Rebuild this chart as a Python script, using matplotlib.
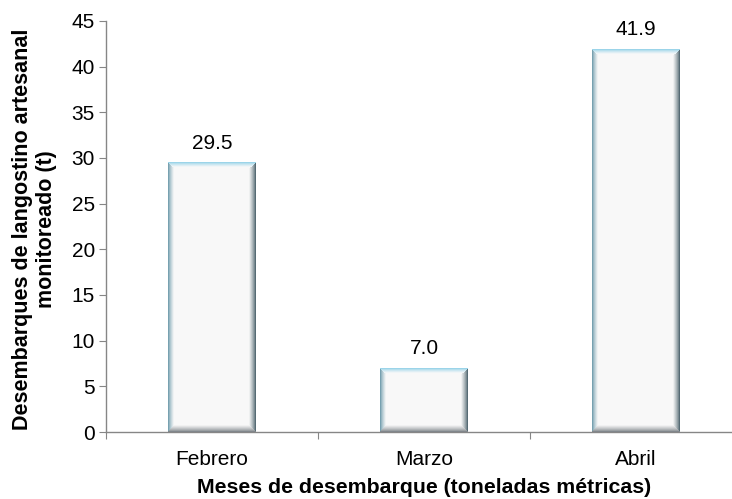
import numpy as np
import matplotlib
matplotlib.use("Agg")
import matplotlib.pyplot as plt

plt.rcParams['font.family'] = ['Liberation Sans', 'DejaVu Sans']

meses = ['Febrero', 'Marzo', 'Abril']
desembarques = [29.5, 7.0, 41.9]
y_ticks = [0, 5, 10, 15, 20, 25, 30, 35, 40, 45]

ancho = 0.415
gris_eje = '#868686'
fondo = 0.975


def imagen_bisel(w, h):
    """Arma la textura de una barra con bordes biselados (w x h pixeles)."""
    X, Y = np.meshgrid(np.arange(w) + 0.5, np.arange(h) + 0.5)
    d_izq, d_der, d_sup, d_inf = X, w - X, Y, h - Y
    img = np.ones((h, w, 3)) * fondo
    lados = [
        (d_izq, np.array([0.36, 0.56, 0.63]), 6.0),
        (d_der, np.array([0.22, 0.32, 0.36]), 7.0),
        (d_sup, np.array([0.52, 0.80, 0.90]), 5.0),
        (d_inf, np.array([0.42, 0.45, 0.47]), 7.0),
    ]
    dmin = np.minimum(np.minimum(d_izq, d_der), np.minimum(d_sup, d_inf))
    for d, color, grosor in lados:
        m = (d == dmin) & (d < grosor)
        t = np.clip(d / grosor, 0, 1) ** 0.7
        for c in range(3):
            capa = color[c] * (1 - t) + fondo * t
            img[..., c] = np.where(m, capa, img[..., c])
    return img


fig = plt.figure(figsize=(7.32, 4.99), dpi=100)
ax = fig.add_axes([106 / 732, (499 - 432) / 499, 636 / 732, 411 / 499])

x = np.arange(len(meses))
ax.set_xlim(-0.5, 2.5)
ax.set_ylim(0, 45)

for xi, val in zip(x, desembarques):
    x0, x1 = xi - ancho / 2, xi + ancho / 2
    p0 = ax.transData.transform((x0, 0))
    p1 = ax.transData.transform((x1, val))
    w = int(round(p1[0] - p0[0]))
    h = int(round(p1[1] - p0[1]))
    ax.imshow(imagen_bisel(w, h), extent=(x0, x1, 0, val), aspect='auto',
              interpolation='bilinear', zorder=3)
    ax.text(xi, val + 1.1, f'{val:.1f}', ha='center', va='bottom', fontsize=15)

ax.set_xlim(-0.5, 2.5)
ax.set_ylim(0, 45)

ax.set_yticks(y_ticks)
ax.set_xticks([-0.5, 0.5, 1.5, 2.5])
ax.set_xticklabels([])
ax.set_xticks(x, minor=True)
ax.set_xticklabels(meses, minor=True, fontsize=15)
ax.tick_params(axis='x', which='minor', length=0, pad=13)
ax.tick_params(axis='x', which='major', length=5, color=gris_eje)
ax.tick_params(axis='y', length=5, color=gris_eje, labelsize=15, pad=3)

for lado in ['top', 'right']:
    ax.spines[lado].set_visible(False)
for lado in ['left', 'bottom']:
    ax.spines[lado].set_color(gris_eje)
    ax.spines[lado].set_linewidth(1.0)

ax.set_xlabel('Meses de desembarque (toneladas métricas)', fontsize=15.3,
              fontweight='bold')
ax.xaxis.set_label_coords(0.5, -0.113)

# titulo del eje y en dos lineas centradas
fig.text(23 / 732, 1 - 229 / 499, 'Desembarques de langostino artesanal',
         rotation=90, ha='center', va='center', fontsize=15.5, fontweight='bold')
fig.text(47 / 732, 1 - 229 / 499, 'monitoreado (t)',
         rotation=90, ha='center', va='center', fontsize=15.5, fontweight='bold')

fig.savefig('out.png', dpi=100)
